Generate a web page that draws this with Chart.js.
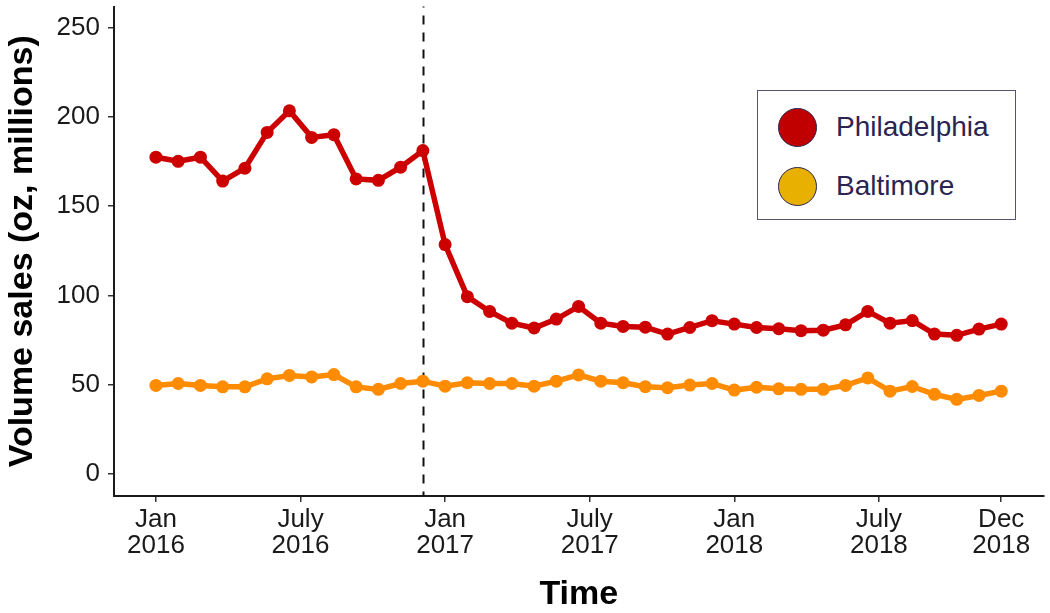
<!DOCTYPE html>
<html>
<head>
<meta charset="utf-8">
<script src="https://cdn.jsdelivr.net/npm/chart.js@4"></script>
<style>
  body { margin: 0; background: #fff; }
  #wrap { position: relative; width: 1050px; height: 613px; }
  #legend {
    position: absolute; left: 757px; top: 90px; width: 259px; height: 130px;
    border: 1.5px solid #5a5270; background: #fff; box-sizing: border-box;
    font-family: "Liberation Sans", Arial, sans-serif; font-size: 28px; color: #2b2450;
  }
  .item { position: absolute; left: 20px; height: 40px; display: flex; align-items: center; }
  .dot { width: 39px; height: 39px; border-radius: 50%; border: 1px solid #2b2450; box-sizing: border-box; margin-right: 19px; }
</style>
</head>
<body>
<div id="wrap">
  <canvas id="salesChart" width="1050" height="613"></canvas>
  <div id="legend"></div>
</div>
<script>
// 4-week periods, Jan 2016 .. Dec 2018
const philadelphia = [177.5, 175.2, 177.5, 164.1, 171.3, 191.4, 203.5, 188.6, 190.1, 165.3, 164.5, 171.9, 181.2,
  128.5, 99.3, 91.0, 84.4, 81.7, 86.7, 93.8, 84.4, 82.6, 82.2, 78.3, 82.0, 85.8, 83.9,
  82.0, 81.3, 80.2, 80.5, 83.5, 91.0, 84.4, 85.9, 78.3, 77.6, 81.1, 83.9];
const baltimore = [49.5, 50.6, 49.5, 48.7, 48.7, 53.2, 55.1, 54.3, 55.6, 48.7, 47.3, 50.6, 51.9,
  49.1, 51.0, 50.6, 50.6, 49.1, 51.9, 55.4, 51.9, 51.0, 48.8, 48.2, 49.7, 50.6, 46.9,
  48.5, 47.6, 47.3, 47.3, 49.5, 53.7, 46.3, 48.9, 44.5, 41.7, 43.9, 46.3];

const seriesNames = ["Philadelphia", "Baltimore"];
const lineColors = ["#cc0000", "#ff8c00"];
const legendColors = ["#c00000", "#e8b000"];

const xTickValues = [0, 6.5, 13, 19.5, 26, 32.5, 38];
const xTickLabels = [["Jan", "2016"], ["July", "2016"], ["Jan", "2017"], ["July", "2017"],
  ["Jan", "2018"], ["July", "2018"], ["Dec", "2018"]];
const yTickValues = [0, 50, 100, 150, 200, 250];
const cutoffPeriod = 12;

const FONT = "'Liberation Sans', Arial, sans-serif";

function toPoints(values) {
  return values.map((v, i) => ({ x: i, y: v }));
}

const cutoffLine = {
  id: "cutoffLine",
  beforeDatasetsDraw(chart) {
    const { ctx, chartArea, scales } = chart;
    const x = Math.round(scales.x.getPixelForValue(cutoffPeriod)) + 0.5;
    ctx.save();
    ctx.strokeStyle = "#111";
    ctx.lineWidth = 2;
    ctx.setLineDash([9, 8]);
    ctx.lineDashOffset = -9;
    ctx.beginPath();
    ctx.moveTo(x, chartArea.top);
    ctx.lineTo(x, chartArea.bottom);
    ctx.stroke();
    ctx.restore();
  }
};

const axisStyle = {
  border: { display: true, color: "#1a1a1a", width: 2 },
  grid: { display: true, drawOnChartArea: false, drawTicks: true, tickLength: 6, color: "#333", lineWidth: 1.5 }
};

new Chart(document.getElementById("salesChart"), {
  type: "line",
  data: {
    datasets: [0, 1].map(k => ({
      label: seriesNames[k],
      data: toPoints(k === 0 ? philadelphia : baltimore),
      borderColor: lineColors[k],
      backgroundColor: lineColors[k],
      borderWidth: 5.5,
      pointRadius: 6.5,
      pointBorderWidth: 0,
      tension: 0
    }))
  },
  options: {
    responsive: false,
    animation: false,
    layout: { padding: { top: 3, right: 5, left: 0, bottom: 0 } },
    plugins: { legend: { display: false }, tooltip: { enabled: false } },
    scales: {
      x: {
        type: "linear",
        min: -1.885,
        max: 39.9,
        ...axisStyle,
        afterBuildTicks: s => { s.ticks = xTickValues.map(v => ({ value: v })); },
        afterFit: s => { s.height = 117; s.paddingLeft = 0; s.paddingRight = 0; },
        ticks: {
          autoSkip: false,
          maxRotation: 0,
          padding: 5,
          color: "#1a1a1a",
          font: { family: FONT, size: 26, lineHeight: 1.0 },
          callback: v => xTickLabels[xTickValues.indexOf(v)]
        },
        title: {
          display: true,
          text: "Time",
          color: "#000",
          font: { family: FONT, size: 34, weight: "bold", lineHeight: 1.0 },
          padding: { top: 0, bottom: 1 }
        }
      },
      y: {
        min: -12.5,
        max: 262,
        ...axisStyle,
        afterBuildTicks: s => { s.ticks = yTickValues.map(v => ({ value: v })); },
        afterFit: s => { s.width = 114; s.paddingTop = 0; s.paddingBottom = 0; },
        ticks: {
          padding: 8,
          color: "#1a1a1a",
          font: { family: FONT, size: 26 }
        },
        title: {
          display: true,
          text: "Volume sales (oz, millions)",
          color: "#000",
          font: { family: FONT, size: 34, weight: "bold", lineHeight: 1.0 },
          padding: { top: 6, bottom: 0 }
        }
      }
    }
  },
  plugins: [cutoffLine]
});

const legend = document.getElementById("legend");
seriesNames.forEach((name, k) => {
  const item = document.createElement("div");
  item.className = "item";
  item.style.top = (k === 0 ? 16 : 75) + "px";
  const dot = document.createElement("span");
  dot.className = "dot";
  dot.style.background = legendColors[k];
  const label = document.createElement("span");
  label.textContent = name;
  item.appendChild(dot);
  item.appendChild(label);
  legend.appendChild(item);
});
</script>
</body>
</html>
